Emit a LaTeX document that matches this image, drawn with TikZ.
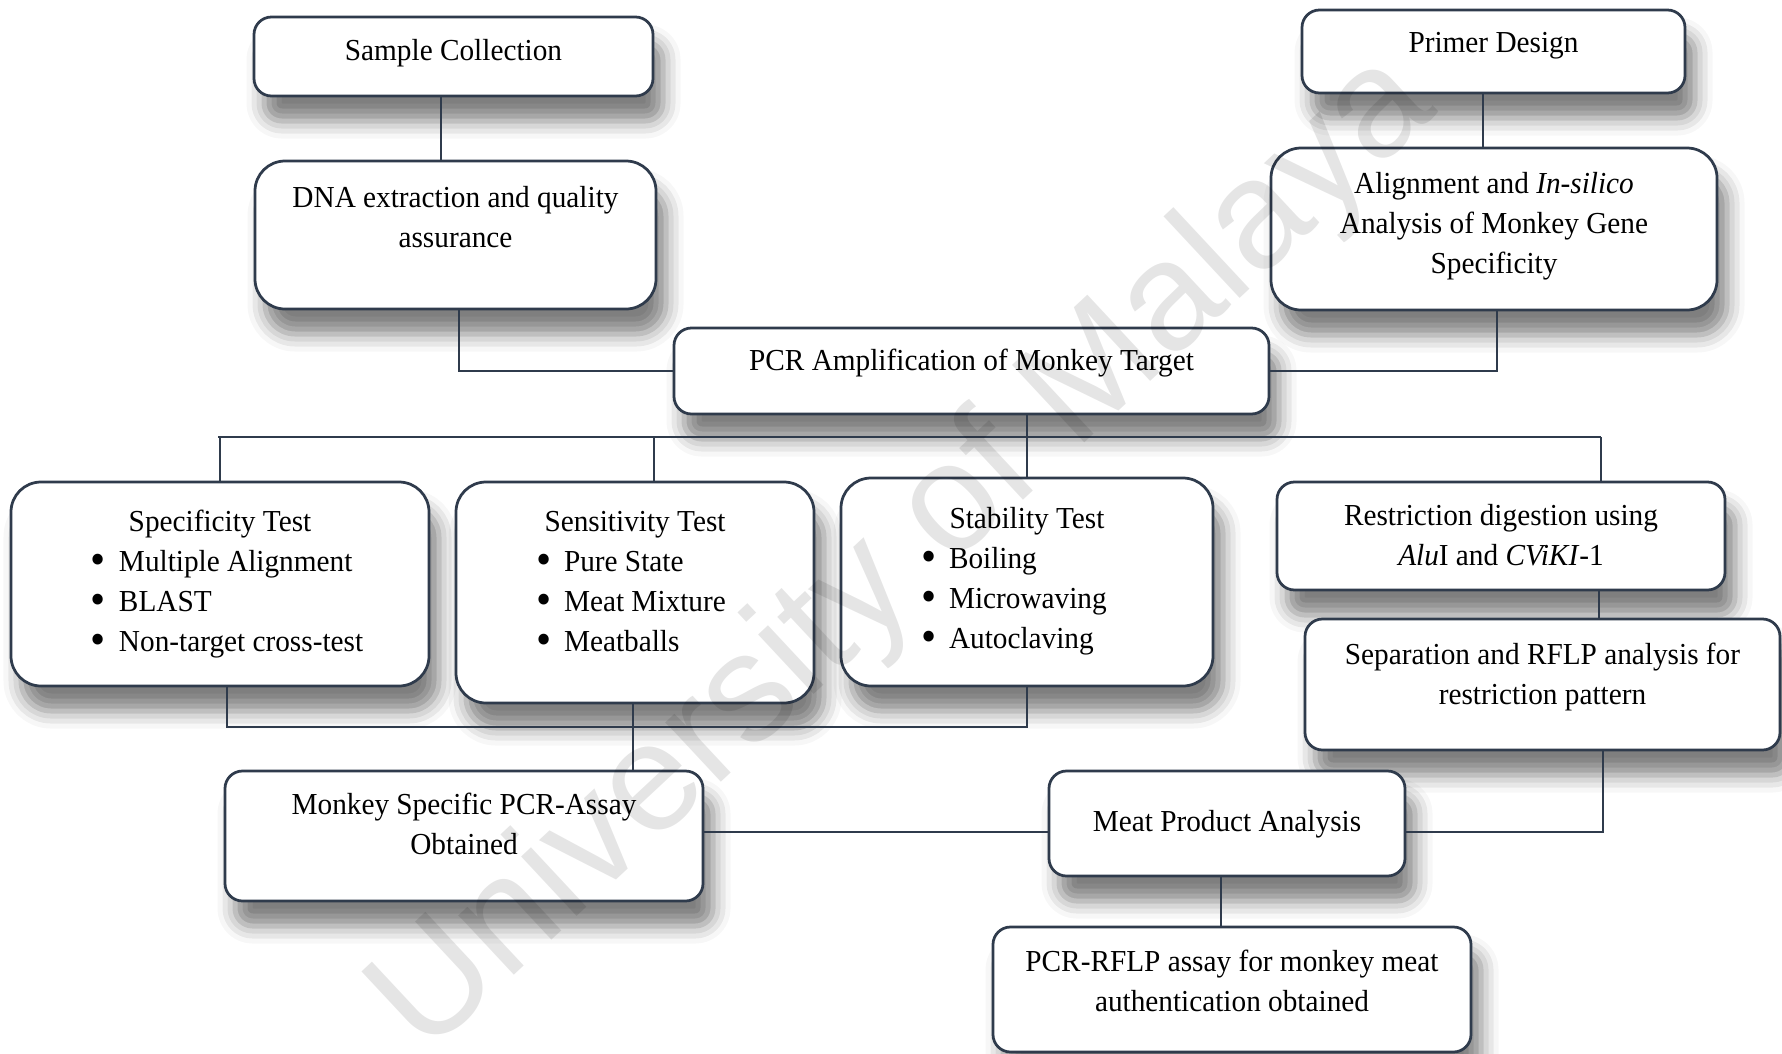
\documentclass[tikz,border=0pt]{standalone}
\usepackage{fontspec}
\setmainfont{Liberation Serif}[FakeStretch=0.96]
\newfontfamily\wmfont{Liberation Sans}
\usetikzlibrary{shadows.blur}
\definecolor{linec}{HTML}{2F3B4C}
% top aligned text block of a box: width, height, top space, text
\newcommand{\boxtext}[4]{\parbox[t][#2][t]{#1}{\vspace*{#3}\centering\strut #4}}
\newcommand{\blist}{\par\raggedright\leftskip=32pt\relax}
\newcommand{\bitem}[1]{\par\makebox[11.2pt][l]{\raisebox{-1.3pt}{\fontsize{18}{18}\selectfont\textbullet}}#1}

\tikzset{
  stepbox/.style={draw=linec, line width=1.1pt, fill=white, rounded corners=7pt, inner sep=0pt,
    blur shadow={shadow xshift=4pt, shadow yshift=-10pt, shadow blur radius=7pt, shadow opacity=50},
    font=\fontsize{12.2}{16}\selectfont},
  bigbox/.style={stepbox, rounded corners=12pt},
  link/.style={draw=linec, line width=1.1pt}
}

\begin{document}
\begin{tikzpicture}[x=0.4pt, y=-0.4pt]
  \useasboundingbox (0,0) rectangle (1782,1054);

  %%%%% boxes %%%%%
  \node[stepbox] (sample) at (453.5,56.5) {\boxtext{159.6pt}{31.6pt}{6pt}{Sample Collection}};
  \node[bigbox] (dna) at (455.5,235) {\boxtext{160.4pt}{59.2pt}{7.2pt}{DNA extraction and quality\\assurance}};
  \node[stepbox] (pcr) at (971.5,371) {\boxtext{238pt}{34.4pt}{5.6pt}{PCR Amplification of Monkey Target}};
  \node[stepbox] (primer) at (1493.5,51.5) {\boxtext{153.2pt}{33.2pt}{5.6pt}{Primer Design}};
  \node[bigbox] (align) at (1494,229) {\boxtext{178.4pt}{64.8pt}{6.8pt}{Alignment and \textit{In-silico}\\Analysis of Monkey Gene\\Specificity}};

  \node[bigbox] (spec) at (220,584) {\boxtext{167.2pt}{81.6pt}{8.4pt}{Specificity Test\blist
    \bitem{Multiple Alignment}\bitem{BLAST}\bitem{Non-target cross-test}}};
  \node[bigbox] (sens) at (635,592.5) {\boxtext{143.2pt}{88.4pt}{8.4pt}{Sensitivity Test\blist
    \bitem{Pure State}\bitem{Meat Mixture}\bitem{Meatballs}}};
  \node[bigbox] (stab) at (1027,582) {\boxtext{148.8pt}{83.2pt}{8.8pt}{Stability Test\blist
    \bitem{Boiling}\bitem{Microwaving}\bitem{Autoclaving}}};
  \node[stepbox] (restr) at (1501,536) {\boxtext{179.2pt}{43.2pt}{6pt}{Restriction digestion using\\\textit{Alu}I and \textit{CViKI}-1}};
  \node[stepbox] (sep) at (1542.5,684.5) {\boxtext{190pt}{52.4pt}{6.8pt}{Separation and RFLP analysis for\\restriction pattern}};

  \node[stepbox] (monkey) at (464,836) {\boxtext{191.2pt}{52pt}{6pt}{Monkey Specific PCR-Assay\\Obtained}};
  \node[stepbox] (meat) at (1227,823.5) {\boxtext{142.4pt}{42pt}{12.8pt}{Meat Product Analysis}};
  \node[stepbox] (rflp) at (1232,989.5) {\boxtext{191.2pt}{50pt}{6.4pt}{PCR-RFLP assay for monkey meat\\authentication obtained}};

  %%%%% connectors %%%%%
  \coordinate (bus) at (218,437);
  \coordinate (busR) at (1601,437);
  \coordinate (bot) at (227,727);

  \draw[link] ([xshift=-5pt]sample.south) -- ([xshift=-5pt]sample.south |- dna.north);
  \draw[link] ([xshift=1.4pt]dna.south) |- (pcr.west);
  \draw[link] ([xshift=-4.2pt]primer.south) -- ([xshift=-4.2pt]primer.south |- align.north);
  \draw[link] ([xshift=1.2pt]align.south) |- (pcr.east);
  \draw[link] (pcr.south -| stab.north) -- (stab.north);

  \draw[link] (bus) -- (busR);
  \draw[link] (spec.north) -- (spec.north |- bus);
  \draw[link] ([xshift=7.6pt]sens.north) -- ([xshift=7.6pt]sens.north |- bus);
  \draw[link] (busR) -- (busR |- restr.north);
  \draw[link] ([xshift=39.2pt]restr.south) -- ([xshift=39.2pt]restr.south |- sep.north);

  \draw[link] ([xshift=2.8pt]spec.south) -- ([xshift=2.8pt]spec.south |- bot) -- (bot -| stab.south) -- (stab.south);
  \draw[link] ([xshift=-0.8pt]sens.south) -- ([xshift=-0.8pt]sens.south |- monkey.north);
  \draw[link] ([yshift=1.6pt]monkey.east) -- ([yshift=1.6pt]monkey.east -| meat.west);
  \draw[link] ([xshift=24.2pt]sep.south) |- ([yshift=-3.4pt]meat.east);
  \draw[link] ([xshift=-2.4pt]meat.south) -- ([xshift=-2.4pt]meat.south |- rflp.north);

  %%%%% watermark %%%%%
  \node[rotate=43, inner sep=0pt, text=black, opacity=0.1, font=\wmfont\fontsize{61.6}{70}\selectfont] (wmark) at (905,556) {University of Malaya};
\end{tikzpicture}
\end{document}
